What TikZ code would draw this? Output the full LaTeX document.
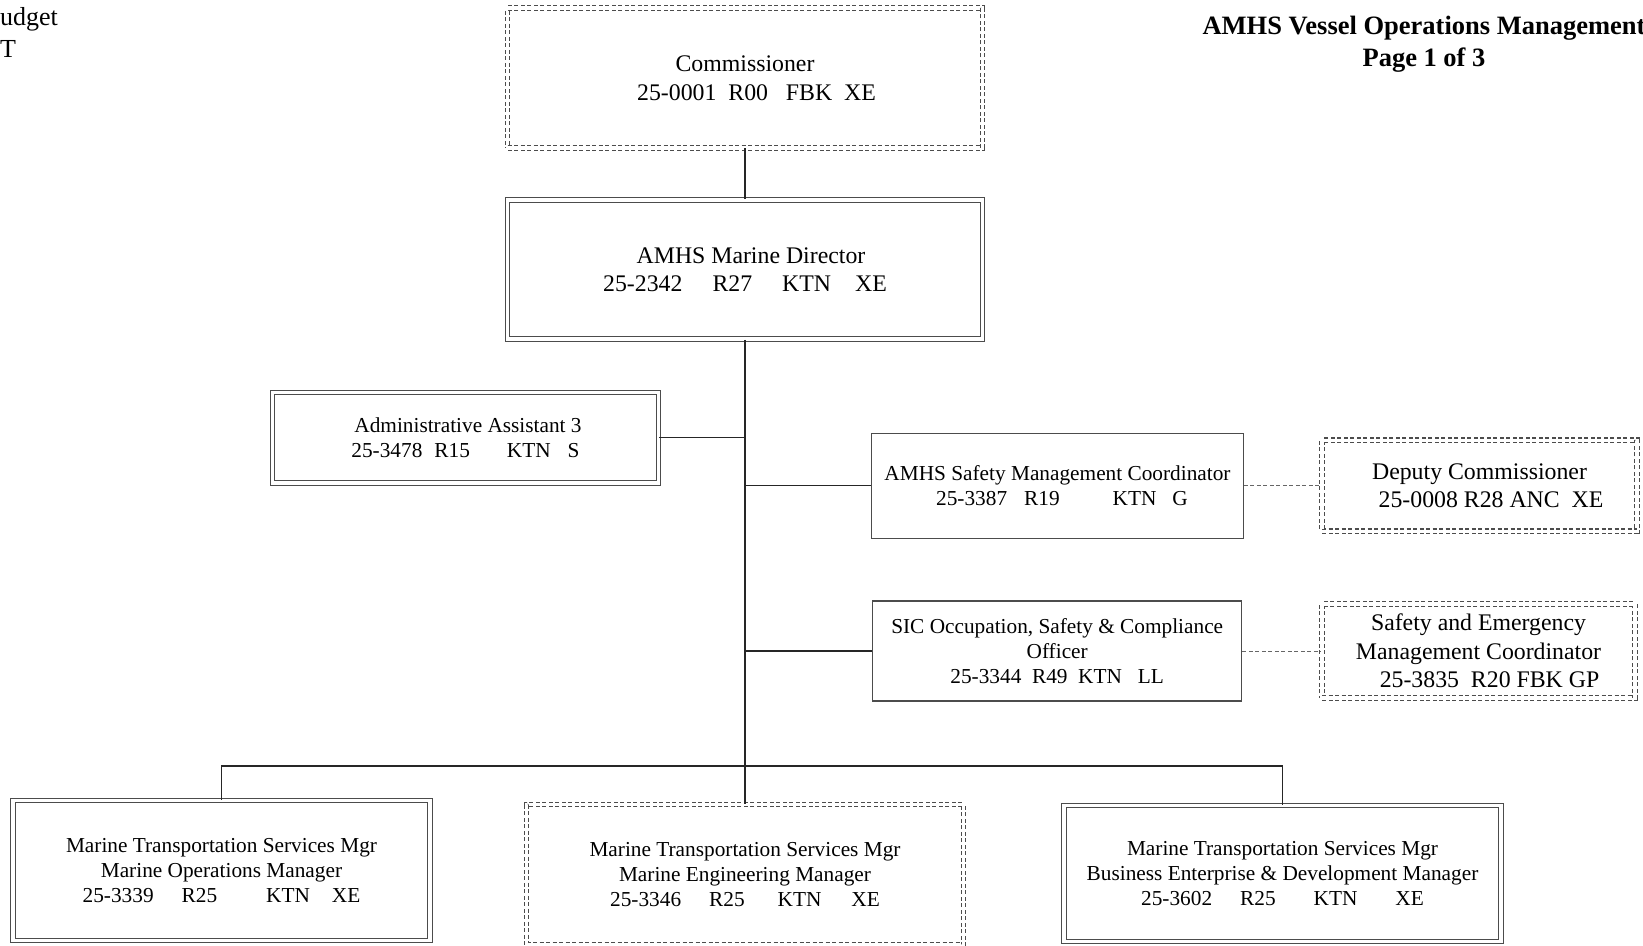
\documentclass[tikz,border=0pt]{standalone}
\usepackage{fontspec}
\setmainfont{Liberation Serif}
\usetikzlibrary{calc}

\begin{document}
\begin{tikzpicture}[x=1pt,y=-1pt,
  boxline/.style={draw=black!70,line width=1.1pt,inner sep=0pt,align=center},
  dblbox/.style={boxline,double,double distance=3.6pt},
  dashbox/.style={dblbox,dash pattern=on 4pt off 2.5pt},
  bigtext/.style={font=\fontsize{23.8}{28.5}\selectfont},
  smalltext/.style={font=\fontsize{21.3}{25.3}\selectfont},
  conn/.style={draw=black!85,line width=1.2pt},
  dashconn/.style={draw=black!60,line width=1pt,dash pattern=on 4pt off 2.5pt}]
\useasboundingbox (0,0) rectangle (1643,945);

% page header
\node[font=\fontsize{26}{32.5}\selectfont,anchor=base west,inner sep=0pt] (budget) at (0,25) {udget};
\node[font=\fontsize{26}{32.5}\selectfont,anchor=base west,inner sep=0pt] (budgetb) at (0,57) {T};
\node[font=\bfseries\fontsize{26.5}{32.5}\selectfont,align=center,inner sep=0pt] (title) at (1424,44)
  {AMHS Vessel Operations Management\\Page 1 of 3};

% boxes
\node[dashbox,bigtext,minimum width=475,minimum height=139.5] (comm) at (745,78)
  {Commissioner\\\hspace*{23pt}25-0001\ \ R00\ \ \ FBK\ \ XE};
\node[dblbox,bigtext,minimum width=475,minimum height=139.5] (dir) at (745,269.5)
  {\hspace*{12pt}AMHS Marine Director\\25-2342\hspace{30pt}R27\hspace{30pt}KTN\hspace{24pt}XE};
\node[dblbox,smalltext,minimum width=386,minimum height=90.5] (admin) at (465.5,437.7)
  {\hspace*{5pt}Administrative Assistant 3\\25-3478\hspace{12pt}R15\hspace{37pt}KTN\hspace{17pt}S};
\node[boxline,smalltext,minimum width=371.6,minimum height=105] (safety) at (1057.5,485.8)
  {AMHS Safety Management Coordinator\\\hspace*{9pt}25-3387\hspace{17pt}R19\hspace{53pt}KTN\hspace{16pt}G};
\node[dashbox,bigtext,minimum width=315,minimum height=91] (deputy) at (1479.5,485.8)
  {Deputy Commissioner\\\hspace*{23pt}25-0008 R28 ANC\ \ XE};
\node[boxline,smalltext,minimum width=369,minimum height=100] (sic) at (1057.2,651)
  {SIC Occupation, Safety \& Compliance\\Officer\\25-3344\ \ R49\ \ KTN\ \ \ LL};
\node[dashbox,bigtext,minimum width=313,minimum height=94.5] (sem) at (1478.5,651)
  {Safety and Emergency\\Management Coordinator\\\hspace*{22pt}25-3835\ \ R20 FBK GP};
\node[dblbox,smalltext,minimum width=417,minimum height=140] (opsmgr) at (221.5,870.5)
  {Marine Transportation Services Mgr\\Marine Operations Manager\\25-3339\hspace{28pt}R25\hspace{49pt}KTN\hspace{22pt}XE};
\node[dashbox,smalltext,minimum width=437,minimum height=140] (engmgr) at (745,874.5)
  {Marine Transportation Services Mgr\\Marine Engineering Manager\\25-3346\hspace{28pt}R25\hspace{33pt}KTN\hspace{30pt}XE};
\node[dblbox,smalltext,minimum width=437,minimum height=136] (bizmgr) at (1282.5,873.5)
  {Marine Transportation Services Mgr\\Business Enterprise \& Development Manager\\25-3602\hspace{28pt}R25\hspace{38pt}KTN\hspace{38pt}XE};

% lines
\coordinate (bus) at (745,766);
\draw[conn] (comm.south) -- (dir.north);
\draw[conn] (dir.south) -- (bus);
\draw[conn] (opsmgr.north) |- (bus) -| (bizmgr.north);
\draw[conn] (bus) -- (engmgr.north);
\draw[conn] (admin.east) -- (admin.east -| bus);
\draw[conn] (safety.west) -- (safety.west -| bus);
\draw[conn] (sic.west) -- (sic.west -| bus);
\draw[dashconn] (safety.east) -- (deputy.west);
\draw[dashconn] (sic.east) -- (sem.west);
\end{tikzpicture}
\end{document}
